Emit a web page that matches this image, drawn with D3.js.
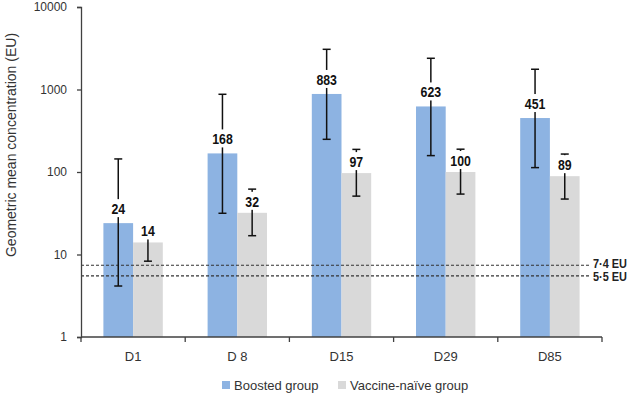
<!DOCTYPE html>
<html>
<head>
<meta charset="utf-8">
<script src="https://cdn.jsdelivr.net/npm/d3@7"></script>
<style>
  html, body { margin: 0; padding: 0; background: #fff; }
  svg { display: block; }
</style>
</head>
<body>
<svg id="chart" width="630" height="403"></svg>
<script>
// ---- data ----
const categories = ["D1", "D 8", "D15", "D29", "D85"];
const seriesNames = ["Boosted group", "Vaccine-naïve group"];
const boostedValues = [24, 168, 883, 623, 451];
const boostedLower = [4.15, 31.6, 249, 158, 113];
const boostedUpper = [144, 875, 3070, 2390, 1760];
const naiveValues = [14, 32, 97, 100, 89];
const naiveLower = [8.3, 16.9, 51, 54, 47];
const naiveUpper = [22.8, 62, 188, 189, 165];
const yTickValues = [1, 10, 100, 1000, 10000];
const thresholdValues = [7.4, 5.5];
const thresholdLabels = ["7·4 EU", "5·5 EU"];
const yAxisTitle = "Geometric mean concentration (EU)";

(function () {
// ---- build rows ----
const rows = [];
categories.forEach((c, i) => {
  rows.push({cat: c, series: seriesNames[0], v: boostedValues[i], lo: boostedLower[i], hi: boostedUpper[i]});
  rows.push({cat: c, series: seriesNames[1], v: naiveValues[i], lo: naiveLower[i], hi: naiveUpper[i]});
});

const colors = {"Boosted group": "#8DB3E2", "Vaccine-naïve group": "#D9D9D9"};
const labelFont = "'Liberation Sans', Arial, sans-serif";
const baseFont = "'Liberation Sans', Arial, sans-serif";

const svg = d3.select("#chart");
const pLeft = 81, pRight = 602, pTop = 7, pBottom = 337;

const x = d3.scaleBand().domain(categories).range([pLeft, pRight])
  .paddingInner(0.43).paddingOuter(0.215);
const xs = d3.scaleBand().domain(seriesNames).range([0, x.bandwidth()]);
const y = d3.scaleLog().domain([1, 10000]).range([pBottom, pTop]);

// bars
svg.append("g").selectAll("rect").data(rows).join("rect")
  .attr("x", d => x(d.cat) + xs(d.series))
  .attr("width", xs.bandwidth())
  .attr("y", d => y(d.v))
  .attr("height", d => y(1) - y(d.v))
  .attr("fill", d => colors[d.series]);

// threshold lines
const th = svg.append("g");
thresholdValues.forEach((t, i) => {
  th.append("line")
    .attr("x1", pLeft).attr("x2", 591)
    .attr("y1", y(t)).attr("y2", y(t))
    .attr("stroke", "#333").attr("stroke-width", 1.1)
    .attr("stroke-dasharray", "3,2");
  th.append("text")
    .attr("transform", `translate(593,${y(t) + (i === 0 ? 2.5 : 5.5)}) scale(0.84,1)`)
    .attr("font-family", labelFont).attr("font-weight", "bold")
    .attr("font-size", 13).attr("fill", "#222")
    .text(thresholdLabels[i]);
});

// error bars
const eb = svg.append("g").attr("stroke", "#111").attr("stroke-width", 1.5);
rows.forEach(d => {
  const cx = x(d.cat) + xs(d.series) + xs.bandwidth() / 2;
  eb.append("line").attr("x1", cx).attr("x2", cx).attr("y1", y(d.lo)).attr("y2", y(d.hi));
  eb.append("line").attr("x1", cx - 4).attr("x2", cx + 4).attr("y1", y(d.lo)).attr("y2", y(d.lo));
  eb.append("line").attr("x1", cx - 4).attr("x2", cx + 4).attr("y1", y(d.hi)).attr("y2", y(d.hi));
});

// value labels with white boxes
const lg = svg.append("g");
rows.forEach(d => {
  const cx = x(d.cat) + xs(d.series) + xs.bandwidth() / 2;
  const base = y(d.v) - (d.series === seriesNames[0] ? 9 : 6);
  const g = lg.append("g");
  const t = g.append("text")
    .attr("transform", `translate(${cx},${base}) scale(0.88,1)`)
    .attr("text-anchor", "middle")
    .attr("font-family", labelFont).attr("font-weight", "bold")
    .attr("font-size", 14).attr("fill", "#111")
    .text(d.v);
  const w = t.node().getComputedTextLength() * 0.88;
  g.insert("rect", "text")
    .attr("x", cx - w / 2 - 2).attr("width", w + 4)
    .attr("y", base - 15).attr("height", 18)
    .attr("fill", "#fff");
});

// y axis
const yAxis = d3.axisLeft(y).tickValues(yTickValues).tickFormat(d3.format("d")).tickSize(4).tickPadding(10);
const ya = svg.append("g").attr("transform", `translate(${pLeft},0)`).call(yAxis);
ya.select(".domain").attr("stroke", "#404040").attr("stroke-width", 1.3);
ya.selectAll(".tick line").attr("stroke", "#404040").attr("stroke-width", 1.3);
ya.selectAll(".tick text").attr("font-family", baseFont).attr("font-size", 12).attr("fill", "#333");

// x axis line and boundary ticks
const xa = svg.append("g");
xa.append("line").attr("x1", pLeft).attr("x2", pRight).attr("y1", pBottom).attr("y2", pBottom)
  .attr("stroke", "#404040").attr("stroke-width", 1.3);
d3.range(categories.length + 1).forEach(k => {
  const bx = pLeft + k * x.step();
  xa.append("line").attr("x1", bx).attr("x2", bx).attr("y1", pBottom).attr("y2", pBottom + 5)
    .attr("stroke", "#404040").attr("stroke-width", 1.3);
});
xa.selectAll("text.cat").data(categories).join("text")
  .attr("class", "cat")
  .attr("x", d => x(d) + x.bandwidth() / 2)
  .attr("y", 361)
  .attr("text-anchor", "middle")
  .attr("font-family", baseFont).attr("font-size", 13).attr("fill", "#333")
  .text(d => d);

// y axis title
svg.append("text")
  .attr("transform", `translate(16,145) rotate(-90)`)
  .attr("text-anchor", "middle")
  .attr("font-family", baseFont).attr("font-size", 14).attr("fill", "#333")
  .text(yAxisTitle);

// legend
const legendX = [222, 338];
const leg = svg.append("g");
seriesNames.forEach((s, i) => {
  leg.append("rect").attr("x", legendX[i]).attr("y", 381).attr("width", 8).attr("height", 8)
    .attr("fill", colors[s]);
  leg.append("text").attr("x", legendX[i] + 12).attr("y", 389.5)
    .attr("font-family", baseFont).attr("font-size", 13).attr("fill", "#333")
    .text(s);
});
})();
</script>
</body>
</html>
